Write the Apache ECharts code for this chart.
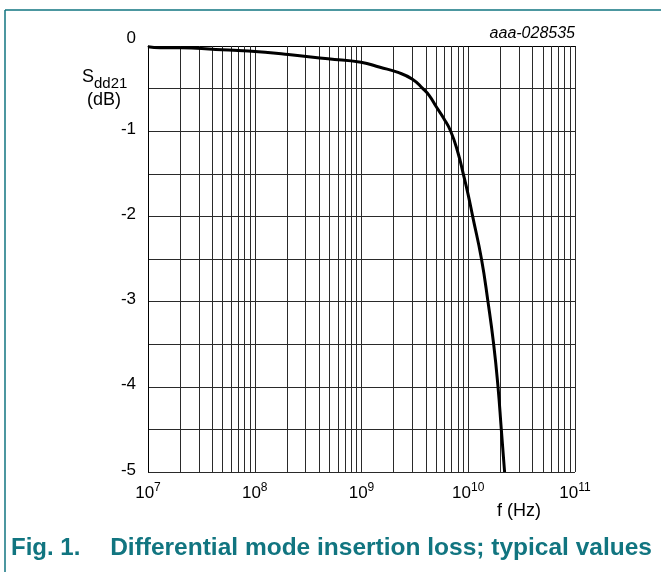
<!DOCTYPE html>
<html>
<head>
<meta charset="utf-8">
<script src="https://cdn.jsdelivr.net/npm/echarts@6/dist/echarts.min.js"></script>
<style>
html,body{margin:0;padding:0;background:#fff;}
#c{width:661px;height:572px;}
</style>
</head>
<body>
<div id="c"></div>
<script>
// Frequencies (Hz) and insertion loss (dB)
const freqHz = [1e7, 1.3e7, 2.05e7, 4.3e7, 8.7e7, 2.06e8, 4.86e8, 9.9e8, 1.49e9, 2.2e9, 3.0e9, 3.76e9, 4.3e9, 5.0e9, 5.9e9, 6.85e9, 8.0e9, 8.98e9, 1.0e10, 1.10e10, 1.33e10, 1.53e10, 1.73e10, 1.90e10, 2.04e10, 2.19e10];
const sdd21dB = [-0.01, -0.02, -0.02, -0.04, -0.06, -0.10, -0.15, -0.19, -0.25, -0.31, -0.39, -0.50, -0.58, -0.71, -0.85, -1.0, -1.25, -1.5, -1.75, -2.0, -2.5, -3.0, -3.5, -4.0, -4.5, -5.0];

// Axis ranges / ticks
const xDecades = [7, 8, 9, 10, 11];
const yMin = -5, yMax = 0, yStep = 0.5;
const minorMultipliers = [2, 3, 4, 5, 6, 7, 8, 9];

const chartId = 'aaa-028535';
const yTitleMain = 'S';
const yTitleSub = 'dd21';
const yTitleUnit = '(dB)';
const xTitle = 'f (Hz)';
const captionNum = 'Fig. 1.';
const captionText = 'Differential mode insertion loss; typical values';

const teal = '#117580';
const gridCol = '#2a2a2a';

const minorLines = [];
for (let i = 0; i < xDecades.length - 1; i++) {
  for (const m of minorMultipliers) {
    minorLines.push({ xAxis: m * Math.pow(10, xDecades[i]) });
  }
}

const chart = echarts.init(document.getElementById('c'), null, { renderer: 'canvas' });
const FONT = 'Liberation Sans, Arial, sans-serif';

chart.setOption({
  animation: false,
  backgroundColor: '#fff',
  grid: { left: 148, top: 46, width: 427, height: 426, containLabel: false },
  xAxis: {
    type: 'log',
    logBase: 10,
    min: Math.pow(10, xDecades[0]),
    max: Math.pow(10, xDecades[xDecades.length - 1]),
    axisLine: { show: true, lineStyle: { color: '#000', width: 1 } },
    axisTick: { show: false },
    splitLine: { show: true, lineStyle: { color: gridCol, width: 1 } },
    axisLabel: {
      margin: 10,
      fontFamily: FONT,
      color: '#000',
      formatter: function (v) {
        return '{b|10}{s|' + Math.round(Math.log10(v)) + '}';
      },
      rich: {
        b: { fontSize: 17, fontFamily: FONT, color: '#000', lineHeight: 20, verticalAlign: 'bottom' },
        s: { fontSize: 12, fontFamily: FONT, color: '#000', lineHeight: 12, verticalAlign: 'top' }
      }
    }
  },
  yAxis: {
    type: 'value',
    min: yMin,
    max: yMax,
    interval: yStep,
    axisLine: { show: true, lineStyle: { color: '#000', width: 1 } },
    axisTick: { show: false },
    splitLine: { show: true, lineStyle: { color: gridCol, width: 1 } },
    axisLabel: {
      margin: 12,
      fontFamily: FONT,
      fontSize: 16,
      color: '#000',
      formatter: function (v) {
        if (Math.abs(v - Math.round(v)) > 1e-6) return '';
        if (Math.round(v) === 0) return '{t|0}';
        return '{n|' + Math.round(v) + '}';
      },
      rich: {
        t: { fontSize: 17, fontFamily: FONT, color: '#000', padding: [0, 0, 16, 0] },
        n: { fontSize: 17, fontFamily: FONT, color: '#000', padding: [0, 0, 4, 0] }
      }
    }
  },
  series: [
    {
      type: 'line',
      data: freqHz.map((f, i) => [f, sdd21dB[i]]),
      showSymbol: false,
      smooth: 0.5,
      lineStyle: { color: '#000', width: 3 },
      z: 5,
      markLine: {
        silent: true,
        symbol: ['none', 'none'],
        label: { show: false },
        lineStyle: { color: gridCol, width: 1, type: 'solid' },
        data: minorLines,
        z: 1
      }
    }
  ],
  graphic: [
    { type: 'line', shape: { x1: 5, y1: 10, x2: 661, y2: 10 }, style: { stroke: teal, lineWidth: 1.5 } },
    { type: 'line', shape: { x1: 5, y1: 10, x2: 5, y2: 572 }, style: { stroke: teal, lineWidth: 1.5 } },
    { type: 'text', right: 86, top: 26, style: { text: chartId, font: 'italic 16px ' + FONT, fill: '#000' } },
    { type: 'text', left: 82, top: 68, style: {
        text: '{a|' + yTitleMain + '}{b|' + yTitleSub + '}',
        rich: {
          a: { fontSize: 18, fontFamily: FONT, fill: '#000', verticalAlign: 'top', lineHeight: 18 },
          b: { fontSize: 15, fontFamily: FONT, fill: '#000', verticalAlign: 'bottom', lineHeight: 23 }
        } } },
    { type: 'text', left: 87, top: 91, style: { text: yTitleUnit, font: '18px ' + FONT, fill: '#000' } },
    { type: 'text', left: 497, top: 502, style: { text: xTitle, font: '18px ' + FONT, fill: '#000' } },
    { type: 'text', left: 11, top: 536, style: { text: captionNum, font: 'bold 24px ' + FONT, fill: teal } },
    { type: 'text', right: 9, top: 536, style: { text: captionText, font: 'bold 24.5px ' + FONT, fill: teal } }
  ]
});
</script>
</body>
</html>
